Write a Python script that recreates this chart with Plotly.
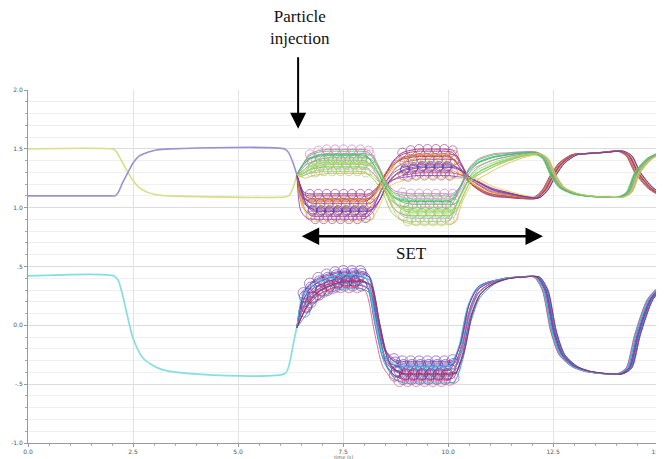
import plotly.graph_objects as go

# ---------------- data ----------------
# nominal waveforms before the particle strike
T_NOM = [0.0, 2.0, 2.07, 2.15, 2.25, 2.38, 2.5, 2.65, 2.85, 3.05, 3.4, 6.1, 6.2, 6.3, 6.4]
V_YELLOW = [1.50, 1.50, 1.49, 1.45, 1.38, 1.30, 1.23, 1.17, 1.13, 1.11, 1.10, 1.09, 1.10, 1.16, 1.28]
V_PURPLE = [1.10, 1.10, 1.10, 1.13, 1.21, 1.30, 1.38, 1.44, 1.47, 1.49, 1.50, 1.50, 1.47, 1.39, 1.28]
T_CYAN = [0.0, 2.05, 2.15, 2.25, 2.36, 2.5, 2.74, 3.14, 3.86, 6.12, 6.22, 6.32, 6.42]
V_CYAN = [0.42, 0.42, 0.38, 0.26, 0.09, -0.11, -0.28, -0.37, -0.41, -0.41, -0.33, -0.15, 0.02]

# ensemble (after particle injection)
T_ENS = [6.4, 6.55, 6.7, 6.9, 7.1, 7.3, 7.5, 7.7, 7.9, 8.1, 8.3, 8.5, 8.7, 8.9, 9.1, 9.3,
         9.5, 9.7, 9.9, 10.1, 10.3, 10.5, 10.7, 10.9, 11.1, 11.4, 11.7, 12.1, 12.3, 12.5,
         12.7, 13.0, 13.3, 13.7, 14.1, 14.3, 14.5, 14.8, 15.1]
A_BASE = [1.28, 1.37, 1.44, 1.47, 1.48, 1.48, 1.48, 1.48, 1.48, 1.47, 1.37, 1.22, 1.13, 1.11,
          1.10, 1.10, 1.10, 1.10, 1.10, 1.10, 1.18, 1.33, 1.40, 1.43, 1.45, 1.46, 1.47, 1.47,
          1.42, 1.27, 1.17, 1.12, 1.10, 1.09, 1.09, 1.13, 1.30, 1.42, 1.47]
A_ENV = [0.0, 0.12, 0.17, 0.19, 0.19, 0.19, 0.19, 0.19, 0.19, 0.19, 0.15, 0.10, 0.18, 0.23,
         0.24, 0.24, 0.24, 0.24, 0.24, 0.23, 0.12, 0.14, 0.15, 0.14, 0.12, 0.08, 0.05, 0.02,
         0.0, 0.0, 0.0, 0.0, 0.0, 0.0, 0.0, 0.0, 0.0, 0.0, 0.0]
B_BASE = [1.28, 1.12, 1.10, 1.10, 1.10, 1.10, 1.10, 1.10, 1.10, 1.10, 1.16, 1.28, 1.39, 1.45,
          1.47, 1.48, 1.48, 1.48, 1.48, 1.47, 1.37, 1.22, 1.16, 1.12, 1.10, 1.09, 1.08, 1.08,
          1.15, 1.28, 1.38, 1.45, 1.46, 1.47, 1.48, 1.44, 1.30, 1.17, 1.10]
B_ENV = [0.0, 0.16, 0.21, 0.22, 0.22, 0.22, 0.22, 0.22, 0.22, 0.21, 0.16, 0.12, 0.18, 0.22,
         0.23, 0.23, 0.23, 0.23, 0.23, 0.22, 0.12, -0.04, -0.08, -0.08, -0.07, -0.05, -0.03,
         -0.01, 0.0, 0.0, 0.0, 0.0, 0.0, 0.0, 0.0, 0.0, 0.0, 0.0, 0.0]
C_BASE = [-0.02, 0.26, 0.34, 0.39, 0.42, 0.44, 0.45, 0.45, 0.45, 0.42, 0.08, -0.22, -0.30,
          -0.32, -0.32, -0.32, -0.32, -0.32, -0.32, -0.31, -0.15, 0.18, 0.32, 0.36, 0.38, 0.40,
          0.41, 0.41, 0.30, -0.05, -0.25, -0.35, -0.39, -0.41, -0.41, -0.36, -0.08, 0.22, 0.34]
C_ENV = [0.0, 0.18, 0.18, 0.16, 0.15, 0.14, 0.14, 0.14, 0.14, 0.15, 0.14, 0.14, 0.16, 0.17,
         0.17, 0.17, 0.17, 0.17, 0.17, 0.17, 0.14, 0.14, 0.09, 0.05, 0.02, 0.0, 0.0, 0.0,
         0.0, 0.0, 0.0, 0.0, 0.0, 0.0, 0.0, 0.0, 0.0, 0.0, 0.0]

# per-run spread factors and timing jitter
SPREAD = [0.0, 0.1, 0.2, 0.3, 0.4, 0.5, 0.6, 0.7, 0.8, 0.9, 1.0, -0.08, 0.15, 0.55]
JITTER = [0.0, 0.04, -0.03, 0.06, -0.05, 0.02, 0.07, -0.02, 0.03, -0.06, 0.05, 0.01, -0.04, 0.08]
LOOPED = [0, 1, 0, 1, 1, 0, 1, 0, 1, 1, 0, 1, 0, 1]

COLORS_A = ["#33cc33", "#e090c8", "#22bb44", "#44cc44", "#d080c8", "#88e060", "#6ad86a",
            "#55cc33", "#e8a0c8", "#7ad860", "#e0c040", "#c878c0", "#2ecc71", "#b8d850"]
COLORS_B = ["#7a2fbf", "#e07a20", "#c0302a", "#9030c0", "#e0b020", "#b04080", "#6030a0",
            "#f09040", "#d04060", "#8040d0", "#e8d040", "#a03090", "#d06020", "#5b3bd0"]
COLORS_C = ["#c02040", "#6030c0", "#3080e0", "#30c0e0", "#a030a0", "#d04070", "#4060d0",
            "#20b0d0", "#8030b0", "#e05080", "#2090c0", "#7040c0", "#40d0e0", "#b02050"]

LOOP_AB = [(6.7, 8.1), (8.9, 10.1)]
LOOP_C = [(6.55, 7.9), (8.7, 10.1)]

X_TICKS = [0, 2.5, 5.0, 7.5, 10.0, 12.5, 15.0]
X_LABELS = ["0.0", "2.5", "5.0", "7.5", "10.0", "12.5", "15.0"]
Y_TICKS = [2.0, 1.5, 1.0, 0.5, 0.0, -0.5, -1.0]
Y_LABELS = ["2.0", "1.5", "1.0", ".5", "0.0", "-.5", "-1.0"]

# ---------------- figure ----------------
fig = go.Figure()


def add_line(x, y, color, width=1.0, opacity=1.0):
    fig.add_trace(go.Scatter(x=x, y=y, mode="lines", showlegend=False, hoverinfo="skip",
                             opacity=opacity,
                             line=dict(color=color, width=width, shape="spline", smoothing=0.7)))


def add_loops(x, y, color, ranges, size):
    xs, ys = [], []
    for xi, yi in zip(x, y):
        if any(a <= xi <= b + 0.06 for a, b in ranges):
            xs.append(xi)
            ys.append(yi)
    fig.add_trace(go.Scatter(x=xs, y=ys, mode="markers", showlegend=False, hoverinfo="skip",
                             opacity=0.7,
                             marker=dict(symbol="circle-open", size=size,
                                         line=dict(color=color, width=0.9), color=color)))


add_line(T_NOM, V_YELLOW, "#d6df86", 1.6)
add_line(T_NOM, V_PURPLE, "#9c90d4", 1.6)
add_line(T_CYAN, V_CYAN, "#84e0e0", 1.7)

groups = [
    (B_BASE, B_ENV, COLORS_B, LOOP_AB, 9),
    (A_BASE, A_ENV, COLORS_A, LOOP_AB, 9),
    (C_BASE, C_ENV, COLORS_C, LOOP_C, 11),
]
for base, env, colors, loops, msize in groups:
    for k, s in enumerate(SPREAD):
        xk = [T_ENS[0]] + [t + JITTER[k] for t in T_ENS[1:]]
        yk = [b - s * e for b, e in zip(base, env)]
        add_line(xk, yk, colors[k], 1.0, 0.85)
        if LOOPED[k]:
            add_loops(xk, yk, colors[k], loops, msize)

serif = "Liberation Serif, Times New Roman, serif"
fig.add_annotation(x=0.4277, y=1.178, xref="paper", yref="paper", text="Particle<br>injection",
                   showarrow=False, font=dict(family=serif, size=17, color="#111"),
                   xanchor="center", yanchor="middle")
fig.add_annotation(x=6.43, y=1.67, xref="x", yref="y", text="", showarrow=True,
                   ax=0, ay=-73, arrowhead=2, arrowsize=1.6, arrowwidth=2, arrowcolor="#000")
fig.add_annotation(x=12.26, y=0.757, ax=6.48, ay=0.757, xref="x", yref="y", axref="x", ayref="y",
                   text="", showarrow=True, arrowside="end+start", arrowhead=2, arrowsize=1.4,
                   arrowwidth=2.5, arrowcolor="#000")
fig.add_annotation(x=9.12, y=0.609, xref="x", yref="y", text="SET", showarrow=False,
                   font=dict(family=serif, size=17, color="#111"))
fig.add_annotation(x=7.5, y=-0.055, xref="x", yref="paper", text="time (s)", showarrow=False,
                   font=dict(family="DejaVu Sans", size=5, color="#666"))

# the page body adds an 8px offset, so the figure is sized/margined to compensate
fig.update_layout(
    width=656, height=451,
    margin=dict(l=20, r=0, t=82, b=16),
    paper_bgcolor="white", plot_bgcolor="white",
    font=dict(family="DejaVu Sans", size=6, color="#555"),
    xaxis=dict(range=[0, 15.14], tickvals=X_TICKS, ticktext=X_LABELS, showgrid=True,
               gridcolor="#e2e2e2", gridwidth=1, zeroline=False, showline=True,
               linecolor="#999", linewidth=1, ticks="outside", ticklen=3, tickcolor="#999",
               tickfont=dict(size=6, color="#555"), ticklabeloverflow="allow",
               minor=dict(dtick=0.5, ticks="outside", ticklen=2, tickcolor="#aaa", showgrid=False)),
    yaxis=dict(range=[-1.0, 2.0], tickvals=Y_TICKS, ticktext=Y_LABELS, showgrid=True,
               gridcolor="#dcdcdc", gridwidth=1, zeroline=False, showline=True,
               linecolor="#999", linewidth=1, ticks="outside", ticklen=3, tickcolor="#999",
               tickfont=dict(size=6, color="#555"),
               minor=dict(dtick=0.1, ticks="outside", ticklen=2, tickcolor="#aaa",
                          showgrid=True, gridcolor="#f0f0f0")),
)

fig.write_html("out.html")
